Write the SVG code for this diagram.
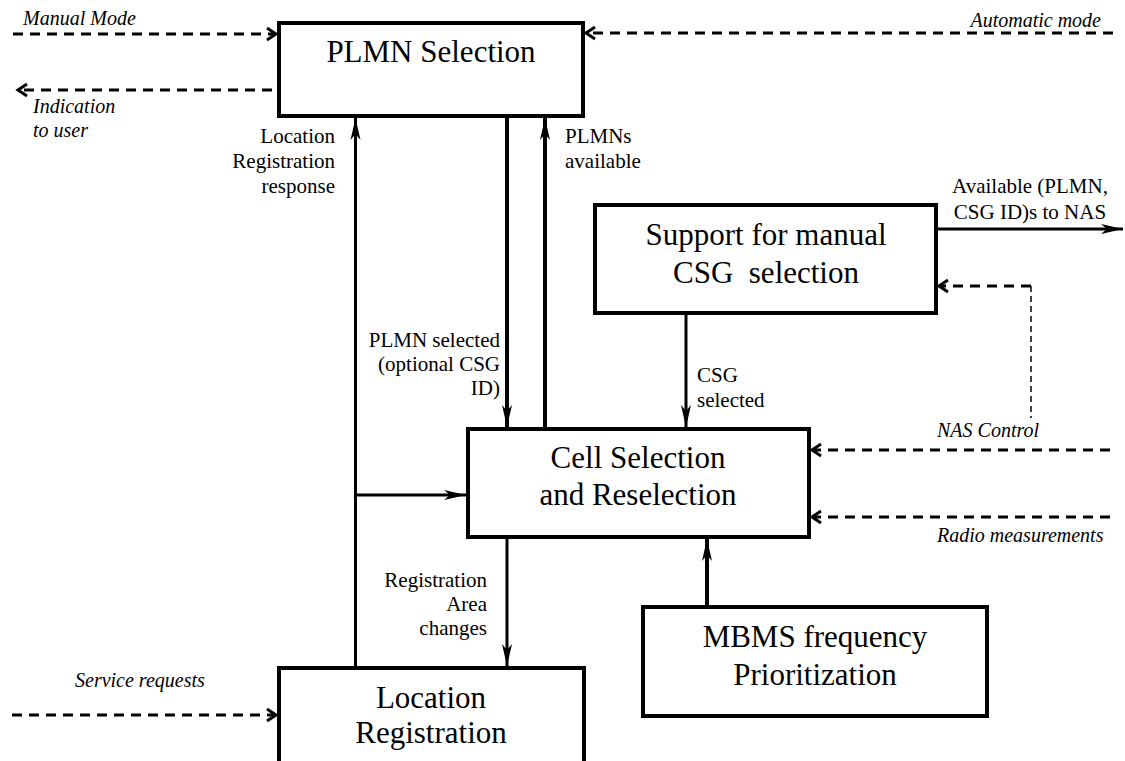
<svg xmlns="http://www.w3.org/2000/svg" width="1125" height="761" viewBox="0 0 1125 761">
<style>
.box{fill:#fff;stroke:#000;stroke-width:4}
.nt{font-size:31px;text-anchor:middle;white-space:pre}
.lb{font-size:21px}
.it{font-size:20px;font-style:italic}
.end{text-anchor:end}
.mid{text-anchor:middle}
.sol{fill:none;stroke:#000;stroke-width:3}
.thk{stroke-width:4}
.dsh{fill:none;stroke:#000;stroke-width:3;stroke-dasharray:10 7}
.thin{fill:none;stroke:#000;stroke-width:1.5;stroke-dasharray:6 4}
</style>
<defs>
<marker id="ah" markerUnits="userSpaceOnUse" markerWidth="24" markerHeight="12" refX="22" refY="6" orient="auto" overflow="visible">
<path d="M0,1 L22,6 L0,11 L6,6 Z" fill="#000"/>
</marker>
<marker id="ch" markerUnits="userSpaceOnUse" markerWidth="14" markerHeight="16" refX="10" refY="7" orient="auto" overflow="visible">
<path d="M1,1 L10,7 L1,13" fill="none" stroke="#000" stroke-width="3"/>
</marker>
</defs>
<rect width="1125" height="761" fill="#fff"/>

<g id="connectors">
<line class="dsh" x1="13" y1="34" x2="276" y2="34" marker-end="url(#ch)"/>
<line class="dsh" x1="272" y1="90" x2="18" y2="90" marker-end="url(#ch)"/>
<line class="dsh" x1="1113" y1="33" x2="586" y2="33" marker-end="url(#ch)"/>
<line class="sol" x1="355.5" y1="668" x2="355.5" y2="118" marker-end="url(#ah)"/>
<line class="sol" x1="355.5" y1="495" x2="466" y2="495" marker-end="url(#ah)"/>
<line class="sol thk" x1="507" y1="116" x2="507" y2="427" marker-end="url(#ah)"/>
<line class="sol thk" x1="545" y1="429" x2="545" y2="118" marker-end="url(#ah)"/>
<line class="sol" x1="686" y1="313" x2="686" y2="427" marker-end="url(#ah)"/>
<line class="sol" x1="938" y1="229" x2="1123" y2="229" marker-end="url(#ah)"/>
<line class="dsh" x1="1031" y1="286" x2="939" y2="286" marker-end="url(#ch)"/>
<line class="thin" x1="1031" y1="286" x2="1031" y2="418"/>
<line class="dsh" x1="1110" y1="450" x2="812" y2="450" marker-end="url(#ch)"/>
<line class="dsh" x1="1110" y1="517" x2="812" y2="517" marker-end="url(#ch)"/>
<line class="sol thk" x1="707" y1="607" x2="707" y2="539" marker-end="url(#ah)"/>
<line class="sol" x1="507" y1="537" x2="507" y2="666" marker-end="url(#ah)"/>
<line class="dsh" x1="12" y1="715" x2="276" y2="715" marker-end="url(#ch)"/>
</g>

<g id="labels" font-family="Liberation Serif, Times New Roman, serif" fill="#000">
<text class="it" x="23" y="25">Manual Mode</text>
<text class="it" x="33" y="113">Indication</text>
<text class="it" x="33" y="137">to user</text>
<text class="it end" x="1101" y="27">Automatic mode</text>
<text class="lb end" x="335" y="143">Location</text>
<text class="lb end" x="335" y="168">Registration</text>
<text class="lb end" x="335" y="193">response</text>
<text class="lb" x="565" y="143">PLMNs</text>
<text class="lb" x="565" y="168">available</text>
<text class="lb mid" x="1030" y="193">Available (PLMN,</text>
<text class="lb mid" x="1030" y="219">CSG ID)s to NAS</text>
<text class="lb end" x="500" y="347">PLMN selected</text>
<text class="lb end" x="500" y="371">(optional CSG</text>
<text class="lb end" x="500" y="395">ID)</text>
<text class="lb" x="697" y="382">CSG</text>
<text class="lb" x="697" y="407">selected</text>
<text class="it" x="937" y="437">NAS Control</text>
<text class="it" x="937" y="542">Radio measurements</text>
<text class="lb end" x="487" y="587">Registration</text>
<text class="lb end" x="487" y="611">Area</text>
<text class="lb end" x="487" y="635">changes</text>
<text class="it" x="75" y="687">Service requests</text>
</g>

<g id="plmn-selection" font-family="Liberation Serif, Times New Roman, serif">
<rect class="box" x="279" y="23" width="304" height="93"/>
<text class="nt" x="431" y="62">PLMN Selection</text>
</g>
<g id="support-csg" font-family="Liberation Serif, Times New Roman, serif">
<rect class="box" x="595" y="205" width="341" height="108"/>
<text class="nt" x="766" y="245">Support for manual</text>
<text class="nt" x="766" y="283">CSG  selection</text>
</g>
<g id="cell-selection" font-family="Liberation Serif, Times New Roman, serif">
<rect class="box" x="468" y="429" width="341" height="108"/>
<text class="nt" x="638" y="468">Cell Selection</text>
<text class="nt" x="638" y="505">and Reselection</text>
</g>
<g id="mbms" font-family="Liberation Serif, Times New Roman, serif">
<rect class="box" x="643" y="607" width="344" height="109"/>
<text class="nt" x="815" y="647">MBMS frequency</text>
<text class="nt" x="815" y="685">Prioritization</text>
</g>
<g id="location-registration" font-family="Liberation Serif, Times New Roman, serif">
<rect class="box" x="279" y="668" width="305" height="130"/>
<text class="nt" x="431" y="708">Location</text>
<text class="nt" x="431" y="743">Registration</text>
</g>
</svg>
